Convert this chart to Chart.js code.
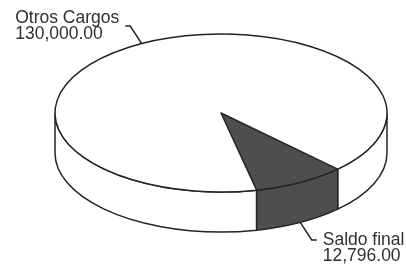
<!DOCTYPE html>
<html>
<head>
<meta charset="utf-8">
<script src="https://cdn.jsdelivr.net/npm/chart.js@4"></script>
<style>
  html, body { margin: 0; padding: 0; background: #fff; overflow: hidden; }
  canvas { display: block; }
</style>
</head>
<body>
<canvas id="pieChart" width="406" height="264"></canvas>
<script>
const labels = ['Otros Cargos', 'Saldo final'];
const values = [130000, 12796];
const valueLabels = ['130,000.00', '12,796.00'];
const sliceColors = ['#ffffff', '#4e4e4e'];

// where the tilted pie sits on the page
const view = { cx: 221, cy: 113, rx: 166, ry: 79, depth: 40 };
const lineColor = '#242424';
const textColor = '#303030';
const labelFont = '17.5px "Liberation Sans", Arial, sans-serif';

const pie3d = {
  id: 'pie3d',
  beforeDatasetsDraw(chart) {
    const ctx = chart.ctx;
    const arcs = chart.getDatasetMeta(0).data;

    // side walls, only the front half shows
    ctx.save();
    ctx.lineWidth = 1.5;
    ctx.strokeStyle = lineColor;
    arcs.forEach((arc, i) => {
      for (let k = -1; k <= 2; k++) {
        const lo = Math.max(arc.startAngle, k * 2 * Math.PI);
        const hi = Math.min(arc.endAngle, k * 2 * Math.PI + Math.PI);
        if (hi <= lo) continue;
        ctx.beginPath();
        ctx.ellipse(view.cx, view.cy, view.rx, view.ry, 0, lo, hi);
        ctx.ellipse(view.cx, view.cy + view.depth, view.rx, view.ry, 0, hi, lo, true);
        ctx.closePath();
        ctx.fillStyle = sliceColors[i];
        ctx.fill();
        ctx.stroke();
      }
    });
    ctx.restore();

    // squash the flat pie into the top face
    const a = arcs[0];
    ctx.save();
    ctx.translate(view.cx, view.cy);
    ctx.scale(view.rx / a.outerRadius, view.ry / a.outerRadius);
    ctx.translate(-a.x, -a.y);
  },
  afterDatasetsDraw(chart) {
    const ctx = chart.ctx;
    const arcs = chart.getDatasetMeta(0).data;
    // build the outline while squashed, stroke it with an even pen
    ctx.beginPath();
    arcs.forEach(arc => {
      ctx.moveTo(arc.x, arc.y);
      ctx.arc(arc.x, arc.y, arc.outerRadius, arc.startAngle, arc.endAngle);
      ctx.closePath();
    });
    ctx.restore();
    ctx.save();
    ctx.lineWidth = 1.5;
    ctx.strokeStyle = lineColor;
    ctx.lineJoin = 'round';
    ctx.stroke();
    ctx.restore();
  },
  afterDraw(chart) {
    const ctx = chart.ctx;
    const arcs = chart.getDatasetMeta(0).data;
    ctx.save();
    ctx.font = labelFont;
    ctx.fillStyle = textColor;
    ctx.strokeStyle = lineColor;
    ctx.lineWidth = 1.5;
    arcs.forEach((arc, i) => {
      const mid = (arc.startAngle + arc.endAngle) / 2;
      const c = Math.cos(mid), s = Math.sin(mid);
      const front = s > 0;
      const side = c < 0 ? -1 : 1;
      const ax = view.cx + view.rx * c;
      const ay = view.cy + view.ry * s + (front ? view.depth : 0);
      const bx = ax + c * 24, by = ay + s * 20;
      const ex = bx + side * 5;

      ctx.beginPath();
      ctx.moveTo(ax, ay);
      ctx.lineTo(bx, by);
      ctx.lineTo(ex, by);
      ctx.stroke();

      const lines = [labels[i], valueLabels[i]];
      const w = Math.max(...lines.map(t => ctx.measureText(t).width));
      const left = side < 0 ? ex - 6 - w : ex + 6;
      const base = front ? by + 5 : by - 3;
      ctx.textAlign = 'left';
      ctx.textBaseline = 'alphabetic';
      lines.forEach((t, j) => ctx.fillText(t, left, base + j * 16));
    });
    ctx.restore();
  }
};

new Chart(document.getElementById('pieChart'), {
  type: 'pie',
  data: {
    labels: labels,
    datasets: [{
      data: values,
      backgroundColor: sliceColors,
      borderWidth: 0
    }]
  },
  options: {
    responsive: false,
    animation: false,
    rotation: 167.6,
    layout: { padding: 0 },
    plugins: {
      legend: { display: false },
      tooltip: { enabled: false }
    }
  },
  plugins: [pie3d]
});
</script>
</body>
</html>
